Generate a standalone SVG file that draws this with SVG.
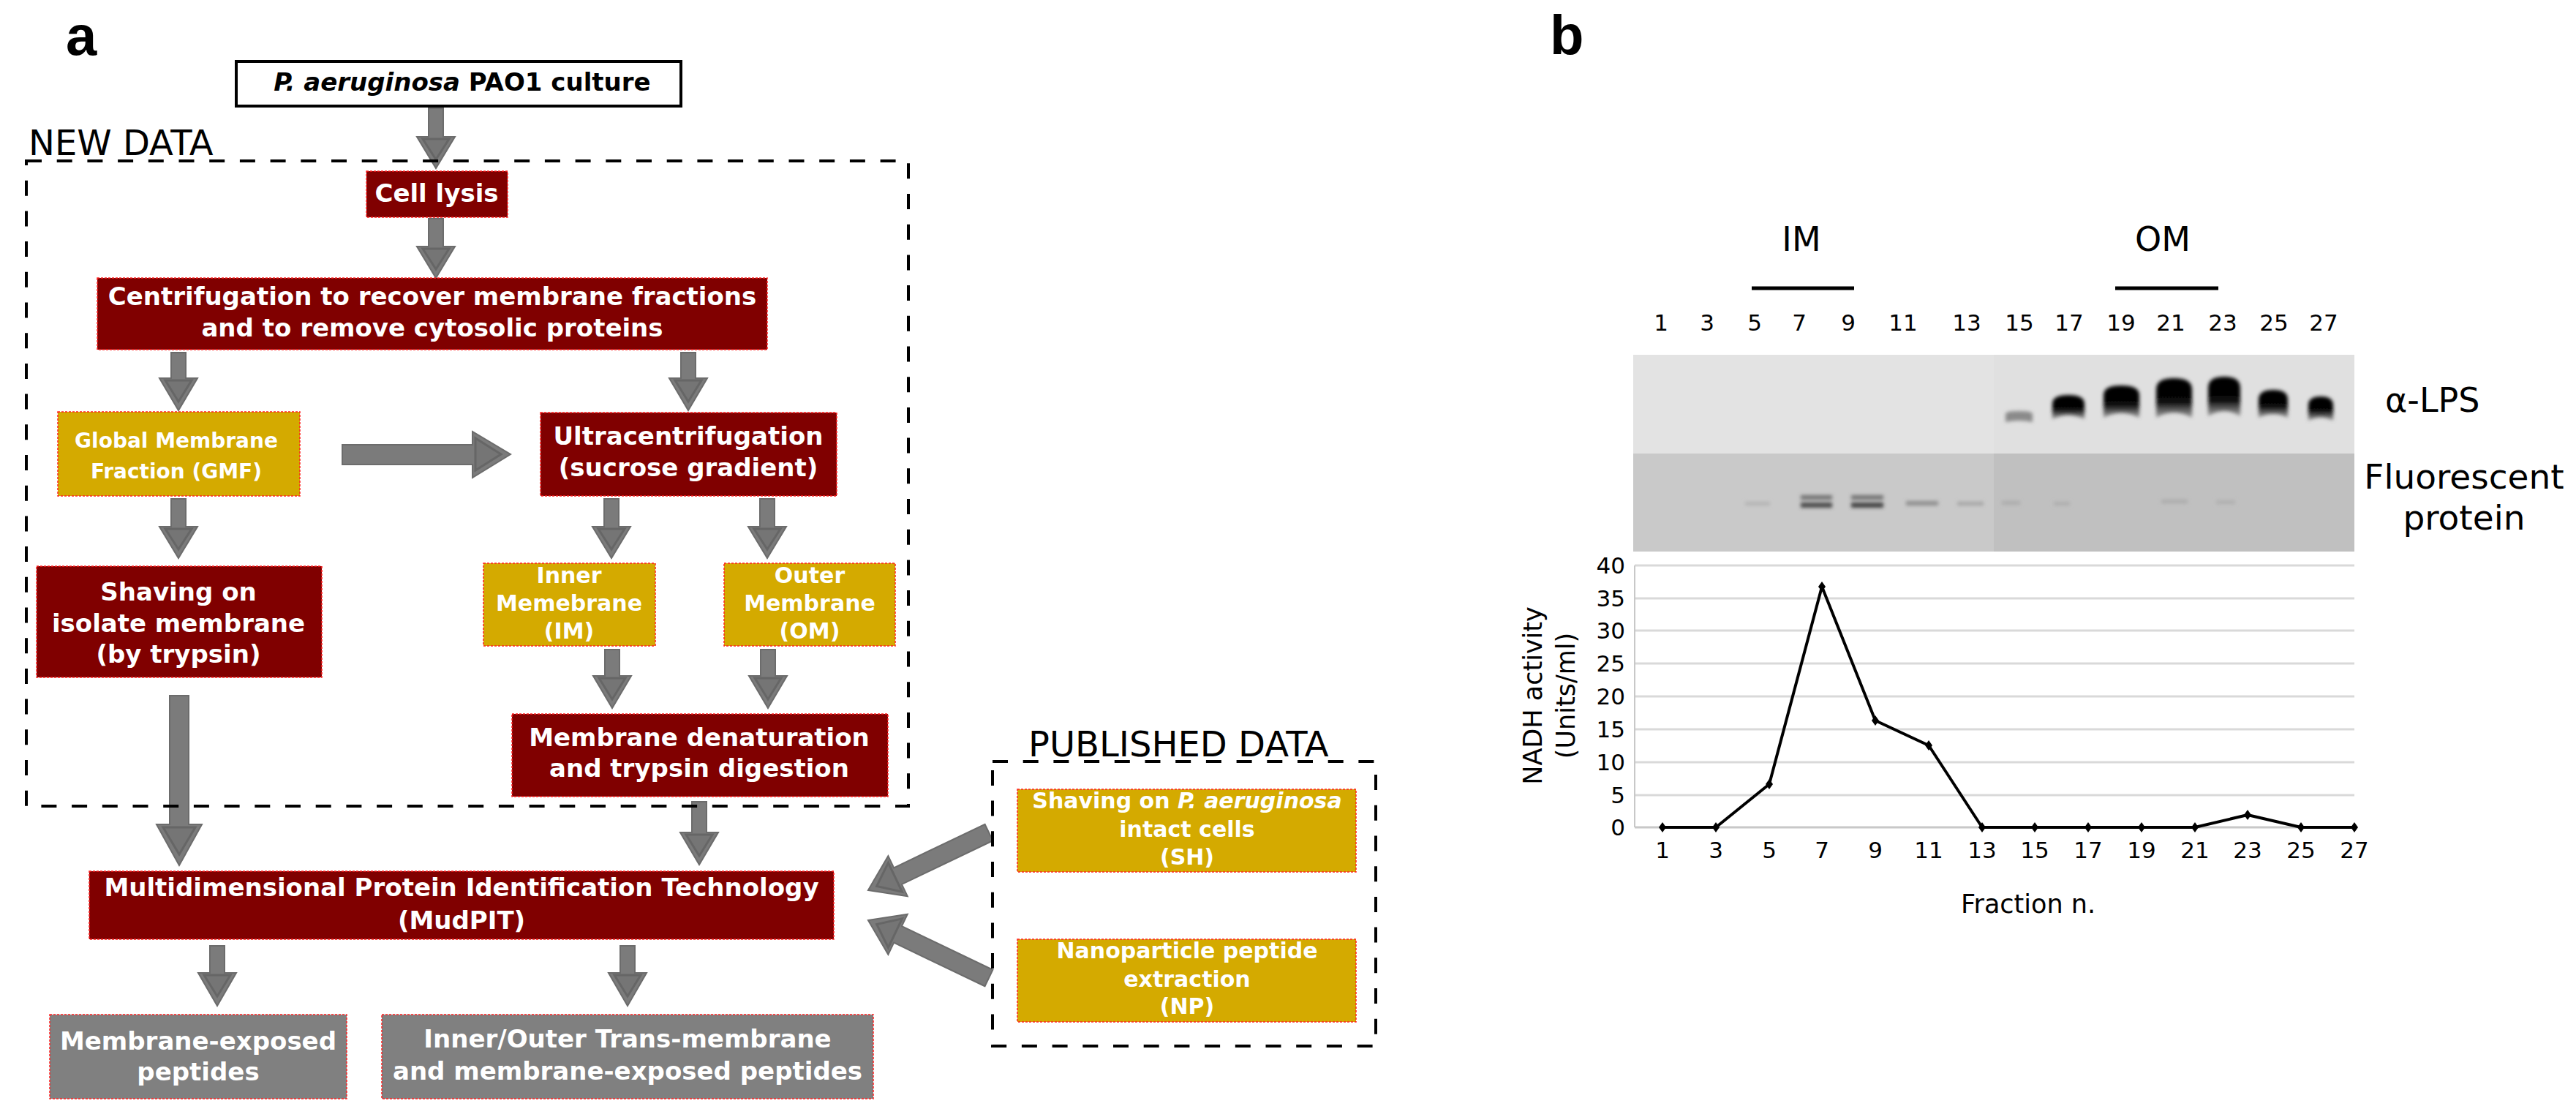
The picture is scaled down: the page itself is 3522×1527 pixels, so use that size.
<svg xmlns="http://www.w3.org/2000/svg" width="3522" height="1527" viewBox="0 0 3522 1527">
<style>
.bx{stroke:#ff2020;stroke-width:1.5;stroke-dasharray:3 2}
.mar{fill:#800000}
.gold{fill:#d4aa00}
.gry{fill:#808080}
.t{font-family:'DejaVu Sans',Verdana,sans-serif;font-weight:bold;fill:#fff;text-anchor:middle}
.s34{font-size:34px}
.s30{font-size:30px}
.s28{font-size:28px}
.arr{fill:#7b7b7b;stroke:#6c6c6c;stroke-width:2;stroke-linejoin:miter}
.inn{fill:#757575;stroke:#666;stroke-width:3;stroke-linejoin:miter}
.dash{fill:none;stroke:#000;stroke-width:4;stroke-dasharray:21 20.7}
.lbl{font-family:'DejaVu Sans',Verdana,sans-serif;fill:#000}
.pl{font-family:'Liberation Sans',Arial,sans-serif;font-weight:bold;font-size:76px;fill:#000}
.grid{stroke:#d9d9d9;stroke-width:3}
.num{font-family:'DejaVu Sans',Verdana,sans-serif;font-size:31px;fill:#000;text-anchor:middle}
.ynum{font-family:'DejaVu Sans',Verdana,sans-serif;font-size:31px;fill:#000;text-anchor:end}
</style>
<defs>
<linearGradient id="bandG" x1="0" y1="0" x2="0" y2="1">
<stop offset="0" stop-color="#000"/>
<stop offset="0.6" stop-color="#080808"/>
<stop offset="1" stop-color="#6a6a6a" stop-opacity="0.6"/>
</linearGradient>
<filter id="blur" x="-30%" y="-30%" width="160%" height="160%"><feGaussianBlur stdDeviation="2.4"/></filter>
<filter id="blur2" x="-30%" y="-150%" width="160%" height="400%"><feGaussianBlur stdDeviation="2.6"/></filter>
</defs>

<text class="pl" x="90" y="75">a</text>
<text class="pl" x="2119" y="74">b</text>

<g id="connectors">
<path class="arr" d="M586,148 L606,148 L606,187 L622,187 L596,230 L570,187 L586,187 Z"/>
<path class="inn" d="M578,190 L614,190 L596,218 Z"/>
<path class="arr" d="M586,299 L606,299 L606,337 L622,337 L596,380 L570,337 L586,337 Z"/>
<path class="inn" d="M578,340 L614,340 L596,368 Z"/>
<path class="arr" d="M234,482 L254,482 L254,517 L270,517 L244,561 L218,517 L234,517 Z"/>
<path class="inn" d="M226,520 L262,520 L244,549 Z"/>
<path class="arr" d="M931,482 L951,482 L951,517 L967,517 L941,561 L915,517 L931,517 Z"/>
<path class="inn" d="M923,520 L959,520 L941,549 Z"/>
<path class="arr" d="M234,682 L254,682 L254,720 L270,720 L244,763 L218,720 L234,720 Z"/>
<path class="inn" d="M226,723 L262,723 L244,751 Z"/>
<path class="arr" d="M826,682 L846,682 L846,720 L862,720 L836,763 L810,720 L826,720 Z"/>
<path class="inn" d="M818,723 L854,723 L836,751 Z"/>
<path class="arr" d="M1039,682 L1059,682 L1059,720 L1075,720 L1049,763 L1023,720 L1039,720 Z"/>
<path class="inn" d="M1031,723 L1067,723 L1049,751 Z"/>
<path class="arr" d="M827,888 L847,888 L847,924 L863,924 L837,968 L811,924 L827,924 Z"/>
<path class="inn" d="M819,927 L855,927 L837,956 Z"/>
<path class="arr" d="M1040,888 L1060,888 L1060,924 L1076,924 L1050,968 L1024,924 L1040,924 Z"/>
<path class="inn" d="M1032,927 L1068,927 L1050,956 Z"/>
<path class="arr" d="M232,951 L258,951 L258,1127 L276,1127 L245,1183 L214,1127 L232,1127 Z"/>
<path class="inn" d="M223,1131 L267,1131 L245,1168 Z"/>
<path class="arr" d="M946,1096 L966,1096 L966,1138 L982,1138 L956,1182 L930,1138 L946,1138 Z"/>
<path class="inn" d="M938,1141 L974,1141 L956,1170 Z"/>
<path class="arr" d="M287,1293 L307,1293 L307,1330 L323,1330 L297,1375 L271,1330 L287,1330 Z"/>
<path class="inn" d="M279,1333 L315,1333 L297,1362 Z"/>
<path class="arr" d="M848,1293 L868,1293 L868,1330 L884,1330 L858,1375 L832,1330 L848,1330 Z"/>
<path class="inn" d="M840,1333 L876,1333 L858,1362 Z"/>
<path class="arr" d="M468,608 L646,608 L646,590 L698,621 L646,653 L646,635 L468,635 Z"/>
<path class="inn" d="M650,599 L650,643 L685,621 Z"/>
<g transform="translate(1352,1138) rotate(154.4)">
<path class="arr" d="M0,-12.5 L138,-12.5 L138,-30.5 L183,0 L138,30.5 L138,12.5 L0,12.5 Z"/>
<path class="inn" d="M142,-22 L142,22 L170,0 Z"/>
</g>
<g transform="translate(1352,1337) rotate(-154.4)">
<path class="arr" d="M0,-12.5 L138,-12.5 L138,-30.5 L183,0 L138,30.5 L138,12.5 L0,12.5 Z"/>
<path class="inn" d="M142,-22 L142,22 L170,0 Z"/>
</g>
</g>

<g id="groups">
<rect class="dash" x="36" y="220" width="1206" height="882"/>
<text class="lbl" x="39" y="212" font-size="48">NEW DATA</text>
<rect class="dash" x="1357" y="1041" width="524" height="389"/>
<text class="lbl" x="1406" y="1034" font-size="48">PUBLISHED DATA</text>
</g>

<g id="culture">
<rect x="323" y="84" width="608" height="61" fill="#fff" stroke="#000" stroke-width="4"/>
<text class="t s34" x="632" y="124" style="fill:#000"><tspan font-style="italic">P. aeruginosa</tspan> PAO1 culture</text>
</g>
<g id="lysis">
<rect class="bx mar" x="501" y="234" width="193" height="63"/>
<text class="t s34" x="597" y="276">Cell lysis</text>
</g>
<g id="centrifugation">
<rect class="bx mar" x="133" y="380" width="916" height="98"/>
<text class="t s34" x="591" y="417">Centrifugation to recover membrane fractions</text>
<text class="t s34" x="591" y="460">and to remove cytosolic proteins</text>
</g>
<g id="gmf">
<rect class="bx gold" x="79" y="563" width="331" height="115"/>
<text class="t s28" x="241" y="612">Global Membrane</text>
<text class="t s28" x="241" y="654">Fraction (GMF)</text>
</g>
<g id="ultra">
<rect class="bx mar" x="739" y="564" width="405" height="114"/>
<text class="t s34" x="941" y="608">Ultracentrifugation</text>
<text class="t s34" x="941" y="651">(sucrose gradient)</text>
</g>
<g id="shaving">
<rect class="bx mar" x="50" y="774" width="390" height="152"/>
<text class="t s34" x="244" y="821">Shaving on</text>
<text class="t s34" x="244" y="864">isolate membrane</text>
<text class="t s34" x="244" y="906">(by trypsin)</text>
</g>
<g id="im">
<rect class="bx gold" x="661" y="770" width="235" height="113"/>
<text class="t s30" x="778" y="797">Inner</text>
<text class="t s30" x="778" y="835">Memebrane</text>
<text class="t s30" x="778" y="873">(IM)</text>
</g>
<g id="om">
<rect class="bx gold" x="990" y="770" width="234" height="113"/>
<text class="t s30" x="1107" y="797">Outer</text>
<text class="t s30" x="1107" y="835">Membrane</text>
<text class="t s30" x="1107" y="873">(OM)</text>
</g>
<g id="denaturation">
<rect class="bx mar" x="700" y="976" width="514" height="113"/>
<text class="t s34" x="956" y="1020">Membrane denaturation</text>
<text class="t s34" x="956" y="1062">and trypsin digestion</text>
</g>
<g id="mudpit">
<rect class="bx mar" x="122" y="1191" width="1018" height="93"/>
<text class="t s34" x="631" y="1225">Multidimensional Protein Identification Technology</text>
<text class="t s34" x="631" y="1270">(MudPIT)</text>
</g>
<g id="exposed">
<rect class="bx gry" x="68" y="1387" width="406" height="115"/>
<text class="t s34" x="271" y="1435">Membrane-exposed</text>
<text class="t s34" x="271" y="1477">peptides</text>
</g>
<g id="transmembrane">
<rect class="bx gry" x="522" y="1387" width="672" height="115"/>
<text class="t s34" x="858" y="1432">Inner/Outer Trans-membrane</text>
<text class="t s34" x="858" y="1476">and membrane-exposed peptides</text>
</g>
<g id="sh">
<rect class="bx gold" x="1391" y="1079" width="463" height="113"/>
<text class="t s30" x="1623" y="1105">Shaving on <tspan font-style="italic">P. aeruginosa</tspan></text>
<text class="t s30" x="1623" y="1144">intact cells</text>
<text class="t s30" x="1623" y="1182">(SH)</text>
</g>
<g id="np">
<rect class="bx gold" x="1391" y="1284" width="463" height="113"/>
<text class="t s30" x="1623" y="1310">Nanoparticle peptide</text>
<text class="t s30" x="1623" y="1349">extraction</text>
<text class="t s30" x="1623" y="1386">(NP)</text>
</g>

<g id="blot">
<text class="lbl" x="2463" y="343" font-size="46" text-anchor="middle">IM</text>
<text class="lbl" x="2957" y="343" font-size="46" text-anchor="middle">OM</text>
<line x1="2395" y1="394" x2="2535" y2="394" stroke="#000" stroke-width="5"/>
<line x1="2892" y1="394" x2="3033" y2="394" stroke="#000" stroke-width="5"/>
<g class="num">
<text x="2271" y="452">1</text><text x="2334" y="452">3</text><text x="2399" y="452">5</text><text x="2460" y="452">7</text><text x="2527" y="452">9</text><text x="2602" y="452">11</text><text x="2689" y="452">13</text><text x="2761" y="452">15</text><text x="2829" y="452">17</text><text x="2900" y="452">19</text><text x="2968" y="452">21</text><text x="3039" y="452">23</text><text x="3109" y="452">25</text><text x="3177" y="452">27</text>
</g>
<rect x="2233" y="485" width="493" height="135" fill="#e3e3e3"/>
<rect x="2726" y="485" width="493" height="135" fill="#e0e0e0"/>
<rect x="2233" y="620" width="493" height="134" fill="#c9c9c9"/>
<rect x="2726" y="620" width="493" height="134" fill="#c0c0c0"/>
<g filter="url(#blur)">
<path d="M2742,577 L2742,566 Q2742,562 2760,562 Q2779,562 2779,566 L2779,577 Q2760,573 2742,577 Z" fill="#8a8a8a"/>
<path d="M2806,573 L2806,552 Q2806,540 2828,540 Q2850,540 2850,552 L2850,573 Q2828,562 2806,573 Z" fill="url(#bandG)"/>
<path d="M2876,571 L2876,540 Q2876,527 2900,527 Q2925,527 2925,540 L2925,571 Q2900,558 2876,571 Z" fill="url(#bandG)"/>
<path d="M2948,571 L2948,532 Q2948,517 2972,517 Q2997,517 2997,532 L2997,571 Q2972,557 2948,571 Z" fill="url(#bandG)"/>
<path d="M3019,569 L3019,530 Q3019,515 3041,515 Q3063,515 3063,530 L3063,569 Q3041,555 3019,569 Z" fill="url(#bandG)"/>
<path d="M3088,571 L3088,546 Q3088,533 3108,533 Q3128,533 3128,546 L3128,571 Q3108,561 3088,571 Z" fill="url(#bandG)"/>
<path d="M3156,575 L3156,554 Q3156,542 3173,542 Q3190,542 3190,554 L3190,575 Q3173,566 3156,575 Z" fill="url(#bandG)"/>
</g>
<g filter="url(#blur2)">
<rect x="2462" y="677" width="43" height="6" fill="#707070"/>
<rect x="2462" y="687" width="43" height="7" fill="#4a4a4a"/>
<rect x="2531" y="677" width="44" height="6" fill="#707070"/>
<rect x="2531" y="687" width="44" height="7" fill="#404040"/>
<rect x="2606" y="685" width="44" height="6" fill="#8e8e8e"/>
<rect x="2676" y="686" width="36" height="5" fill="#a4a4a4"/>
<rect x="2386" y="686" width="34" height="5" fill="#b4b4b4"/>
<rect x="2737" y="685" width="25" height="5" fill="#aaaaaa"/>
<rect x="2808" y="686" width="22" height="5" fill="#adadad"/>
<rect x="2955" y="683" width="36" height="5" fill="#ababab"/>
<rect x="3030" y="684" width="26" height="5" fill="#afafaf"/>
</g>
<text class="lbl" x="3261" y="563" font-size="46">α-LPS</text>
<text class="lbl" x="3369" y="668" font-size="47" text-anchor="middle">Fluorescent</text>
<text class="lbl" x="3369" y="724" font-size="47" text-anchor="middle">protein</text>
</g>

<g id="chart">
<line class="grid" x1="2235" y1="773" x2="3219" y2="773"/>
<line class="grid" x1="2235" y1="818" x2="3219" y2="818"/>
<line class="grid" x1="2235" y1="862" x2="3219" y2="862"/>
<line class="grid" x1="2235" y1="907" x2="3219" y2="907"/>
<line class="grid" x1="2235" y1="952" x2="3219" y2="952"/>
<line class="grid" x1="2235" y1="997" x2="3219" y2="997"/>
<line class="grid" x1="2235" y1="1042" x2="3219" y2="1042"/>
<line class="grid" x1="2235" y1="1087" x2="3219" y2="1087"/>
<line x1="2235" y1="1131" x2="3219" y2="1131" stroke="#c8c8c8" stroke-width="3"/>
<line x1="2235" y1="773" x2="2235" y2="1131" stroke="#c8c8c8" stroke-width="2"/>
<g class="ynum">
<text x="2222" y="784">40</text><text x="2222" y="829">35</text><text x="2222" y="873">30</text><text x="2222" y="918">25</text><text x="2222" y="963">20</text><text x="2222" y="1008">15</text><text x="2222" y="1053">10</text><text x="2222" y="1098">5</text><text x="2222" y="1142">0</text>
</g>
<g class="num">
<text x="2273" y="1173">1</text><text x="2346" y="1173">3</text><text x="2419" y="1173">5</text><text x="2491" y="1173">7</text><text x="2564" y="1173">9</text><text x="2637" y="1173">11</text><text x="2710" y="1173">13</text><text x="2782" y="1173">15</text><text x="2855" y="1173">17</text><text x="2928" y="1173">19</text><text x="3001" y="1173">21</text><text x="3073" y="1173">23</text><text x="3146" y="1173">25</text><text x="3219" y="1173">27</text>
</g>
<polyline fill="none" stroke="#000" stroke-width="4" stroke-linejoin="round" points="2273,1131 2346,1131 2419,1072 2491,802 2564,985 2637,1019 2710,1131 2782,1131 2855,1131 2928,1131 3001,1131 3073,1114 3146,1131 3219,1131"/>
<g fill="#000">
<path d="M2273,1124 l5,7 l-5,7 l-5,-7 Z"/><path d="M2346,1124 l5,7 l-5,7 l-5,-7 Z"/><path d="M2419,1065 l5,7 l-5,7 l-5,-7 Z"/><path d="M2491,795 l5,7 l-5,7 l-5,-7 Z"/><path d="M2564,978 l5,7 l-5,7 l-5,-7 Z"/><path d="M2637,1012 l5,7 l-5,7 l-5,-7 Z"/><path d="M2710,1124 l5,7 l-5,7 l-5,-7 Z"/><path d="M2782,1124 l5,7 l-5,7 l-5,-7 Z"/><path d="M2855,1124 l5,7 l-5,7 l-5,-7 Z"/><path d="M2928,1124 l5,7 l-5,7 l-5,-7 Z"/><path d="M3001,1124 l5,7 l-5,7 l-5,-7 Z"/><path d="M3073,1107 l5,7 l-5,7 l-5,-7 Z"/><path d="M3146,1124 l5,7 l-5,7 l-5,-7 Z"/><path d="M3219,1124 l5,7 l-5,7 l-5,-7 Z"/>
</g>
<text class="lbl" font-size="35" text-anchor="middle" transform="translate(2108,951) rotate(-90)">NADH activity</text>
<text class="lbl" font-size="35" text-anchor="middle" transform="translate(2153,951) rotate(-90)">(Units/ml)</text>
<text class="lbl" x="2773" y="1248" font-size="35" text-anchor="middle">Fraction n.</text>
</g>
</svg>
